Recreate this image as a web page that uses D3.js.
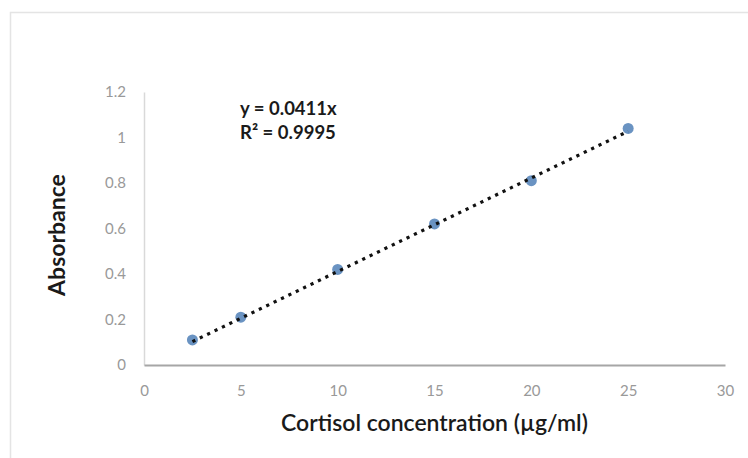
<!doctype html>
<html>
<head>
<meta charset="UTF-8" />
<script src="https://cdn.jsdelivr.net/npm/d3@7"></script>
<style>
	body { margin: 0; background: #fff; }
	svg { display: block; }
</style>
</head>
<body>
<svg id="chart" width="748" height="458"></svg>
<script>
(function () {
	"use strict";

	// data
	const concentration = [2.5, 5, 10, 15, 20, 25];
	const absorbance = [0.11, 0.21, 0.42, 0.62, 0.81, 1.04];
	const xTicks = [0, 5, 10, 15, 20, 25, 30];
	const yTicks = [0, 0.2, 0.4, 0.6, 0.8, 1, 1.2];
	const trendRange = [2.5, 25];
	const trendSlope = 0.0411;
	const equationLines = ["y = 0.0411x", "R² = 0.9995"];

	const svg = d3.select("#chart");
	const width = 748, height = 458;
	const plot = { left: 144, right: 725, top: 92, bottom: 365 };

	// light outer frame of the chart area
	svg.append("path")
		.attr("d", "M10.5," + height + "V12.5H" + width)
		.attr("fill", "none")
		.attr("stroke", "#e4e4e4")
		.attr("stroke-width", 1.5);

	const x = d3.scaleLinear().domain([0, 30]).range([plot.left, plot.right]);
	const y = d3.scaleLinear().domain([0, 1.2]).range([plot.bottom, plot.top]);

	// y axis: just a faint line and grey labels
	const yAxis = svg.append("g")
		.attr("transform", "translate(" + plot.left + ",0)")
		.call(d3.axisLeft(y).tickValues(yTicks).tickSize(0).tickPadding(18)
			.tickFormat(function (d) { return d3.format("~g")(d); }));
	yAxis.select(".domain").attr("stroke", "#d9d9d9").attr("stroke-width", 1.5);
	yAxis.selectAll("text")
		.attr("fill", "#999")
		.style("font-family", "Lato, 'Open Sans', sans-serif")
		.style("font-size", "15px");

	const xAxis = svg.append("g")
		.attr("transform", "translate(0," + plot.bottom + ")")
		.call(d3.axisBottom(x).tickValues(xTicks).tickSize(0).tickPadding(20));
	xAxis.select(".domain").attr("stroke", "#a6a6a6").attr("stroke-width", 2);
	xAxis.selectAll("text")
		.attr("fill", "#999")
		.style("font-family", "Lato, 'Open Sans', sans-serif")
		.style("font-size", "15px");

	// axis titles
	svg.append("text")
		.attr("x", (plot.left + plot.right) / 2)
		.attr("y", 431)
		.attr("text-anchor", "middle")
		.attr("fill", "#1a1a1a")
		.style("font-family", "Lato, sans-serif")
		.style("font-size", "23px")
		.style("font-weight", "600")
		.text("Cortisol concentration (µg/ml)");

	svg.append("text")
		.attr("transform", "translate(65,235) rotate(-90)")
		.attr("text-anchor", "middle")
		.attr("fill", "#1a1a1a")
		.style("font-family", "Lato, sans-serif")
		.style("font-size", "23px")
		.style("font-weight", "bold")
		.text("Absorbance");

	// data markers
	svg.append("g").selectAll("circle")
		.data(concentration)
		.enter().append("circle")
		.attr("cx", function (d) { return x(d); })
		.attr("cy", function (d, i) { return y(absorbance[i]); })
		.attr("r", 5.5)
		.attr("fill", "#6a93c2");

	// dotted linear trendline through the origin
	svg.append("line")
		.attr("x1", x(trendRange[0]))
		.attr("y1", y(trendSlope * trendRange[0]))
		.attr("x2", x(trendRange[1]))
		.attr("y2", y(trendSlope * trendRange[1]))
		.attr("stroke", "#111")
		.attr("stroke-width", 3.2)
		.attr("stroke-dasharray", "3.2,5");

	// trendline equation
	svg.append("g").selectAll("text")
		.data(equationLines)
		.enter().append("text")
		.attr("x", 240)
		.attr("y", function (d, i) { return 115 + i * 24; })
		.attr("fill", "#1a1a1a")
		.style("font-family", "Lato, sans-serif")
		.style("font-size", "18.5px")
		.style("font-weight", "bold")
		.text(function (d) { return d; });
})();
</script>
</body>
</html>
